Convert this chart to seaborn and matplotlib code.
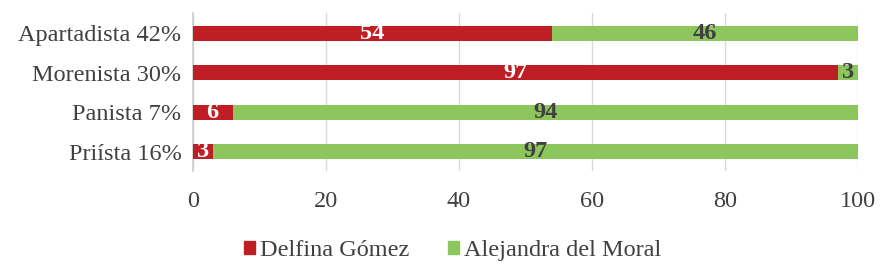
import numpy as np
import pandas as pd
import matplotlib
matplotlib.use('agg')
import matplotlib.pyplot as plt
import seaborn as sns
from matplotlib.patches import Patch

# datos
categorias = ['Apartadista 42%', 'Morenista 30%', 'Panista 7%', 'Priísta 16%']
delfina = [54, 97, 6, 3]
alejandra = [46, 3, 94, 97]
ticks_x = [0, 20, 40, 60, 80, 100]

ROJO = '#BF1E24'
VERDE = '#8CC65C'
TEXTO = '#404040'
FS = 17.5

sns.set_style('white')
plt.rcParams['font.family'] = ['Liberation Serif', 'DejaVu Serif']

df = pd.DataFrame({'cat': categorias, 'delfina': delfina, 'alejandra': alejandra})
df['total'] = df['delfina'] + df['alejandra']

fig = plt.figure(figsize=(8.8, 2.71), dpi=100)
ax = fig.add_axes([0.219, 0.368, 0.756, 0.583])

# verde = total, rojo encima
sns.barplot(data=df, x='total', y='cat', orient='h', color=VERDE, width=0.38,
            saturation=1, linewidth=0, ax=ax, zorder=2)
sns.barplot(data=df, x='delfina', y='cat', orient='h', color=ROJO, width=0.38,
            saturation=1, linewidth=0, ax=ax, zorder=3)

for i, row in df.iterrows():
    ax.text(row['delfina'] / 2, i, str(row['delfina']), ha='center', va='center',
            color='white', fontsize=FS, fontweight='bold', zorder=4)
    ax.text(row['delfina'] + row['alejandra'] / 2, i, str(row['alejandra']),
            ha='center', va='center', color=TEXTO, fontsize=FS, fontweight='bold', zorder=4)

ax.set_xlim(0, 100)
ax.set_ylim(3.5, -0.5)
ax.set_xticks(ticks_x)
ax.grid(axis='x', color='#d9d9d9', linewidth=1, zorder=0)
ax.set_axisbelow(True)
for s in ['top', 'right', 'bottom']:
    ax.spines[s].set_visible(False)
ax.spines['left'].set_color('#cccccc')
ax.spines['left'].set_linewidth(1.2)
ax.tick_params(axis='both', length=0, labelsize=FS, labelcolor=TEXTO)
ax.tick_params(axis='x', pad=14)
ax.tick_params(axis='y', pad=8)
ax.set_xlabel('')
ax.set_ylabel('')

handles = [Patch(color=ROJO, label='Delfina Gómez'), Patch(color=VERDE, label='Alejandra del Moral')]
fig.legend(handles=handles, loc='center', bbox_to_anchor=(0.514, 0.075), ncol=2,
           frameon=False, fontsize=FS, handlelength=0.45, handleheight=0.45,
           handletextpad=0.2, columnspacing=1.6, labelcolor=TEXTO)

plt.savefig('out.png', dpi=100)
